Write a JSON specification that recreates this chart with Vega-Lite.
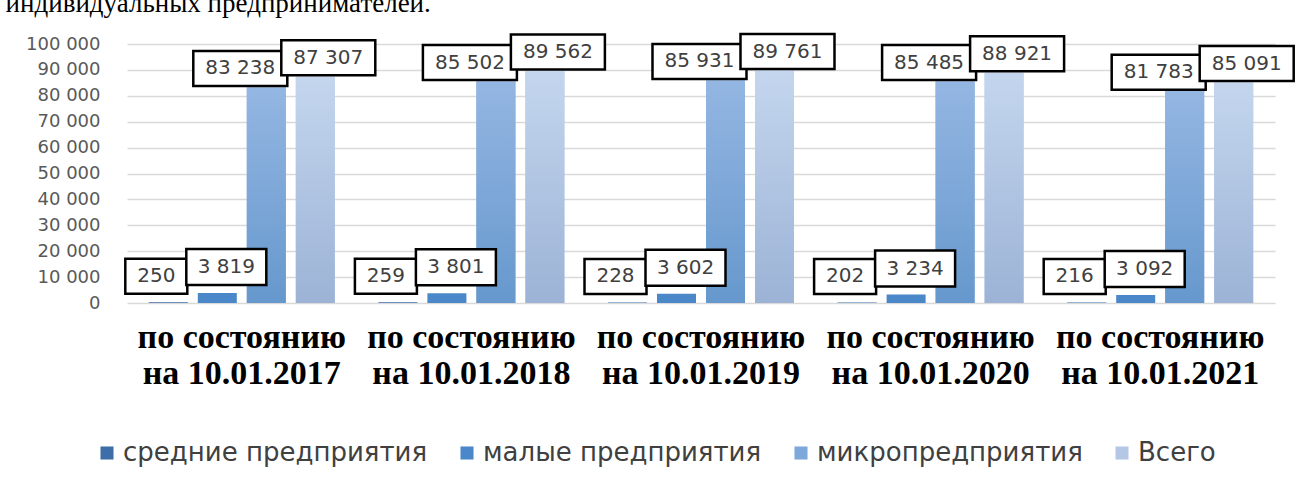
{
  "$schema": "https://vega.github.io/schema/vega-lite/v6.json",
  "autosize": {"type": "none"},
  "width": 1148,
  "height": 259,
  "padding": {"left": 127, "top": 44, "right": 21, "bottom": 187},
  "background": "white",
  "title": {
    "text": "индивидуальных предпринимателей.",
    "anchor": "start",
    "frame": "bounds",
    "font": "Liberation Serif",
    "fontSize": 27,
    "fontWeight": "normal",
    "color": "black",
    "offset": 11,
    "dx": -20
  },
  "config": {
    "locale": {"number": {"decimal": ",", "thousands": " ", "grouping": [3], "currency": ["", ""]}},
    "view": {"stroke": null},
    "legend": {"padding": 0}
  },
  "data": {
    "values": [
      {"date": "по состоянию на 10.01.2017", "series": "средние предприятия", "value": 250},
      {"date": "по состоянию на 10.01.2017", "series": "малые предприятия", "value": 3819},
      {"date": "по состоянию на 10.01.2017", "series": "микропредприятия", "value": 83238},
      {"date": "по состоянию на 10.01.2017", "series": "Всего", "value": 87307},
      {"date": "по состоянию на 10.01.2018", "series": "средние предприятия", "value": 259},
      {"date": "по состоянию на 10.01.2018", "series": "малые предприятия", "value": 3801},
      {"date": "по состоянию на 10.01.2018", "series": "микропредприятия", "value": 85502},
      {"date": "по состоянию на 10.01.2018", "series": "Всего", "value": 89562},
      {"date": "по состоянию на 10.01.2019", "series": "средние предприятия", "value": 228},
      {"date": "по состоянию на 10.01.2019", "series": "малые предприятия", "value": 3602},
      {"date": "по состоянию на 10.01.2019", "series": "микропредприятия", "value": 85931},
      {"date": "по состоянию на 10.01.2019", "series": "Всего", "value": 89761},
      {"date": "по состоянию на 10.01.2020", "series": "средние предприятия", "value": 202},
      {"date": "по состоянию на 10.01.2020", "series": "малые предприятия", "value": 3234},
      {"date": "по состоянию на 10.01.2020", "series": "микропредприятия", "value": 85485},
      {"date": "по состоянию на 10.01.2020", "series": "Всего", "value": 88921},
      {"date": "по состоянию на 10.01.2021", "series": "средние предприятия", "value": 216},
      {"date": "по состоянию на 10.01.2021", "series": "малые предприятия", "value": 3092},
      {"date": "по состоянию на 10.01.2021", "series": "микропредприятия", "value": 81783},
      {"date": "по состоянию на 10.01.2021", "series": "Всего", "value": 85091}
    ]
  },
  "encoding": {
    "x": {
      "field": "date",
      "type": "nominal",
      "scale": {"paddingInner": 0, "paddingOuter": 0},
      "axis": {
        "title": null,
        "domain": false,
        "ticks": false,
        "labelAngle": 0,
        "labelFont": "Liberation Serif",
        "labelFontWeight": "bold",
        "labelFontSize": 34,
        "labelColor": "black",
        "labelPadding": 17,
        "labelLineHeight": 36,
        "labelBaseline": "top",
        "labelLimit": 500,
        "labelOverlap": false,
        "labelExpr": "[substring(datum.label, 0, 12), substring(datum.label, 13)]"
      }
    },
    "xOffset": {
      "field": "series",
      "type": "nominal",
      "scale": {
        "domain": ["средние предприятия", "малые предприятия", "микропредприятия", "Всего"],
        "paddingInner": 0.204,
        "paddingOuter": 0.445
      }
    },
    "y": {
      "field": "value",
      "type": "quantitative",
      "scale": {"domain": [0, 100000], "nice": false},
      "axis": {
        "title": null,
        "domain": false,
        "ticks": false,
        "values": [0, 10000, 20000, 30000, 40000, 50000, 60000, 70000, 80000, 90000, 100000],
        "format": ",d",
        "grid": true,
        "gridColor": "#D9D9D9",
        "gridWidth": 1.5,
        "labelFont": "DejaVu Sans",
        "labelFontSize": 18,
        "labelColor": "#595959",
        "labelPadding": 27
      }
    }
  },
  "layer": [
    {
      "mark": {"type": "bar"},
      "encoding": {
        "color": {
          "field": "series",
          "type": "nominal",
          "scale": {
            "domain": ["средние предприятия", "малые предприятия", "микропредприятия", "Всего"],
            "range": ["#3D6EA8", "#4A88CA", "#7EA8DA", "#B4C8E6"]
          },
          "legend": {
            "title": null,
            "orient": "none",
            "direction": "horizontal",
            "legendX": -33,
            "legendY": 396,
            "symbolType": "square",
            "symbolSize": 170,
            "symbolStrokeWidth": 0,
            "symbolOpacity": 1,
            "labelFont": "DejaVu Sans",
            "labelFontSize": 26,
            "labelColor": "#404040",
            "labelOffset": 3,
            "labelLimit": 600,
            "columnPadding": 26
          }
        }
      }
    },
    {
      "transform": [{"filter": "datum.series === 'микропредприятия'"}],
      "mark": {
        "type": "bar",
        "fill": {"gradient": "linear", "x1": 0, "y1": 0, "x2": 0, "y2": 1,
          "stops": [{"offset": 0, "color": "#94B6E2"}, {"offset": 1, "color": "#6698CD"}]}
      }
    },
    {
      "transform": [{"filter": "datum.series === 'Всего'"}],
      "mark": {
        "type": "bar",
        "fill": {"gradient": "linear", "x1": 0, "y1": 0, "x2": 0, "y2": 1,
          "stops": [{"offset": 0, "color": "#C4D6EE"}, {"offset": 1, "color": "#9CB3D6"}]}
      }
    },
    {
      "transform": [{"filter": "datum.series === 'средние предприятия'"}],
      "layer": [
        {"mark": {"type": "point", "filled": true, "fill": "white", "stroke": "black", "strokeWidth": 2.5, "opacity": 1, "fillOpacity": 1, "strokeOpacity": 1, "size": 40000, "shape": "M-0.43,-0.435H0.19V-0.085H-0.43Z"}},
        {"mark": {"type": "text", "font": "DejaVu Sans", "fontSize": 20, "fill": "#404040", "align": "center", "baseline": "middle", "dx": -12, "dy": -26},
         "encoding": {"text": {"field": "value", "type": "quantitative", "format": ",d"}}}
      ]
    },
    {
      "transform": [{"filter": "datum.series === 'малые предприятия'"}],
      "layer": [
        {"mark": {"type": "point", "filled": true, "fill": "white", "stroke": "black", "strokeWidth": 2.5, "opacity": 1, "fillOpacity": 1, "strokeOpacity": 1, "size": 40000, "shape": "M-0.31,-0.44H0.49V-0.08H-0.31Z"}},
        {"mark": {"type": "text", "font": "DejaVu Sans", "fontSize": 20, "fill": "#404040", "align": "center", "baseline": "middle", "dx": 9, "dy": -26},
         "encoding": {"text": {"field": "value", "type": "quantitative", "format": ",d"}}}
      ]
    },
    {
      "transform": [{"filter": "datum.series === 'микропредприятия'"}],
      "layer": [
        {"mark": {"type": "point", "filled": true, "fill": "white", "stroke": "black", "strokeWidth": 2.5, "opacity": 1, "fillOpacity": 1, "strokeOpacity": 1, "size": 40000, "shape": "M-0.73,-0.365H0.21V-0.015H-0.73Z"}},
        {"mark": {"type": "text", "font": "DejaVu Sans", "fontSize": 20, "fill": "#404040", "align": "center", "baseline": "middle", "dx": -26, "dy": -19},
         "encoding": {"text": {"field": "value", "type": "quantitative", "format": ",d"}}}
      ]
    },
    {
      "transform": [{"filter": "datum.series === 'Всего'"}],
      "layer": [
        {"mark": {"type": "point", "filled": true, "fill": "white", "stroke": "black", "strokeWidth": 2.5, "opacity": 1, "fillOpacity": 1, "strokeOpacity": 1, "size": 40000, "shape": "M-0.34,-0.365H0.6V-0.015H-0.34Z"}},
        {"mark": {"type": "text", "font": "DejaVu Sans", "fontSize": 20, "fill": "#404040", "align": "center", "baseline": "middle", "dx": 13, "dy": -19},
         "encoding": {"text": {"field": "value", "type": "quantitative", "format": ",d"}}}
      ]
    }
  ]
}
